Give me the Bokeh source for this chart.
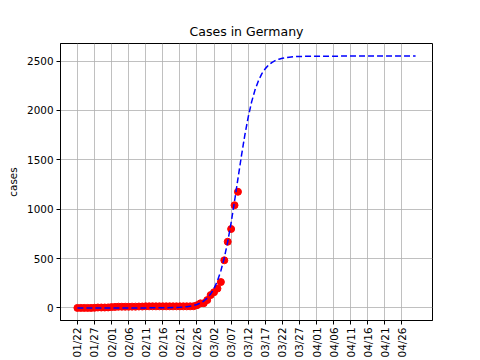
from bokeh.plotting import figure
from bokeh.models import FixedTicker, Range1d
from bokeh.embed import file_html
from bokeh.resources import INLINE

# --- data ---
tick_days = [0, 5, 10, 15, 20, 25, 30, 35, 40, 45, 50, 55, 60, 65, 70, 75, 80, 85, 90, 95]
tick_labels = ["01/22", "01/27", "02/01", "02/06", "02/11", "02/16", "02/21", "02/26",
               "03/02", "03/07", "03/12", "03/17", "03/22", "03/27", "04/01", "04/06",
               "04/11", "04/16", "04/21", "04/26"]

obs_days = list(range(48))
obs_cases = [0, 0, 0, 0, 0, 1, 4, 4, 4, 5, 8, 10, 12, 12, 12, 12, 13, 13, 14, 14,
             16, 16, 16, 16, 16, 16, 16, 16, 16, 16, 16, 16, 16, 16, 17, 27, 46, 48,
             79, 130, 159, 196, 262, 482, 670, 799, 1040, 1176]

fit_days = [0, 10, 20, 25, 30, 32, 34, 35, 36, 37, 38, 39, 40, 41, 42, 43, 44, 45,
            46, 47, 48, 49, 50, 51, 52, 53, 54, 55, 56, 57, 58, 59, 60, 62, 64, 66,
            70, 80, 99]
fit_cases = [0, 0, 0.2, 0.9, 5.7, 11.8, 24, 34, 49, 70, 100, 140, 197, 274, 376, 507,
             670, 863, 1081, 1310, 1536, 1748, 1932, 2086, 2208, 2301, 2372, 2423,
             2460, 2487, 2506, 2519, 2528, 2539, 2545, 2547, 2549, 2550, 2550]

FONT = "DejaVu Sans"

p = figure(width=480, height=360, output_backend="svg", toolbar_location=None,
           title="Cases in Germany",
           x_range=Range1d(-4.95, 103.95), y_range=Range1d(-127.5, 2677.5),
           min_border_left=60, min_border_right=48, min_border_top=43,
           min_border_bottom=40)

p.title.text_font = FONT
p.title.text_font_size = "12.5px"
p.title.text_font_style = "normal"
p.title.align = "center"
p.title.text_color = "black"

p.scatter(obs_days, obs_cases, size=7, color="red", line_color="red")
p.line(fit_days, fit_cases, line_color="blue", line_width=1.5, line_dash="6 3")

p.xaxis.ticker = FixedTicker(ticks=tick_days)
p.xaxis.major_label_overrides = {d: l for d, l in zip(tick_days, tick_labels)}
p.xaxis.major_label_orientation = 1.5708
p.yaxis.ticker = FixedTicker(ticks=[0, 500, 1000, 1500, 2000, 2500])
p.yaxis.axis_label = "cases"

for ax in (p.xaxis, p.yaxis):
    ax.major_label_text_font = FONT
    ax.major_label_text_font_size = "10.4px"
    ax.major_label_text_color = "black"
    ax.axis_label_text_font = FONT
    ax.axis_label_text_font_size = "10.4px"
    ax.axis_label_text_font_style = "normal"
    ax.axis_label_text_color = "black"
    ax.axis_line_color = "black"
    ax.major_tick_line_color = "black"
    ax.major_tick_out = 4
    ax.major_tick_in = 0
    ax.minor_tick_line_color = None
    ax.major_label_standoff = 3

p.xgrid.grid_line_color = "#b0b0b0"
p.ygrid.grid_line_color = "#b0b0b0"
p.xgrid.grid_line_width = 0.8
p.ygrid.grid_line_width = 0.8
p.outline_line_color = "black"
p.outline_line_alpha = 1.0

open("out.html", "w").write(file_html(p, INLINE))
